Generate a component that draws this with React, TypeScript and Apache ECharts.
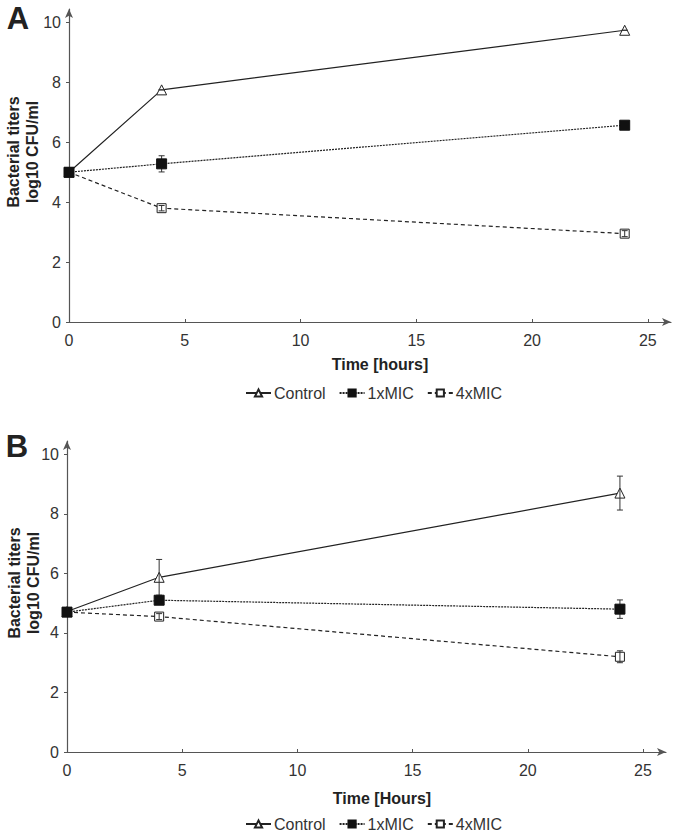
import React, { useEffect, useRef } from "react";
import * as echarts from "echarts";

const hours = [0, 4, 24];
const seriesNames = ["Control", "1xMIC", "4xMIC"];
const xTicks = [0, 5, 10, 15, 20, 25];
const yTicks = [0, 2, 4, 6, 8, 10];

// Panel A
const aControl = [5.0, 7.75, 9.74];
const aControlErr = [0, 0, 0];
const a1x = [5.0, 5.28, 6.57];
const a1xErr = [0.05, 0.27, 0.05];
const a4x = [5.0, 3.8, 2.95];
const a4xErr = [0.05, 0.09, 0.1];

// Panel B
const bControl = [4.72, 5.87, 8.7];
const bControlErr = [0.12, 0.6, 0.57];
const b1x = [4.7, 5.1, 4.8];
const b1xErr = [0.1, 0.12, 0.31];
const b4x = [4.7, 4.55, 3.2];
const b4xErr = [0.1, 0.1, 0.2];

const NARROW = "'Liberation Sans Narrow', 'Arial Narrow', 'Liberation Sans', Arial, sans-serif";
const SANS = "'Liberation Sans', Arial, sans-serif";
const INK = "#222";
const AXIS = "#555";

function pair(v: number[]) {
  return hours.map((h, i) => [h, v[i]]);
}
function errData(v: number[], e: number[]) {
  return hours.map((h, i) => [h, v[i] - e[i], v[i] + e[i]]);
}

const styles: any[] = [
  {
    symbol: "triangle",
    symbolSize: 10,
    z: 3,
    itemStyle: { color: "#fff", borderColor: INK, borderWidth: 1 },
    lineStyle: { color: INK, width: 1.2, type: "solid" },
  },
  {
    symbol: "rect",
    symbolSize: 10,
    z: 6,
    itemStyle: { color: "#111", borderColor: "#111", borderWidth: 1 },
    lineStyle: { color: INK, width: 1.2, type: [2, 1] },
  },
  {
    symbol: "rect",
    symbolSize: 9,
    z: 2,
    itemStyle: { color: "#fff", borderColor: INK, borderWidth: 1 },
    lineStyle: { color: INK, width: 1.2, type: [4, 3] },
  },
];

function renderErr(params: any, api: any) {
  const x = api.value(0);
  const lo = api.coord([x, api.value(1)]);
  const hi = api.coord([x, api.value(2)]);
  const w = 3;
  const st = { stroke: "#333", lineWidth: 1 };
  return {
    type: "group",
    children: [
      { type: "line", shape: { x1: lo[0], y1: lo[1], x2: hi[0], y2: hi[1] }, style: st },
      { type: "line", shape: { x1: lo[0] - w, y1: lo[1], x2: lo[0] + w, y2: lo[1] }, style: st },
      { type: "line", shape: { x1: hi[0] - w, y1: hi[1], x2: hi[0] + w, y2: hi[1] }, style: st },
    ],
  };
}

function xAxisCfg(gridIndex: number) {
  return {
    type: "value",
    gridIndex,
    min: 0,
    max: 26,
    splitLine: { show: false },
    axisLine: {
      show: true,
      lineStyle: { color: AXIS, width: 1.2 },
      symbol: ["none", "arrow"],
      symbolSize: [6, 9],
    },
    axisTick: { show: true, inside: true, length: 3, customValues: xTicks, lineStyle: { color: AXIS } },
    axisLabel: { customValues: xTicks, margin: 10, fontSize: 16, color: "#333", fontFamily: NARROW },
  };
}
function yAxisCfg(gridIndex: number) {
  return {
    type: "value",
    gridIndex,
    min: 0,
    max: 10.45,
    splitLine: { show: false },
    axisLine: {
      show: true,
      lineStyle: { color: AXIS, width: 1.2 },
      symbol: ["none", "arrow"],
      symbolSize: [6, 9],
    },
    axisTick: { show: true, inside: false, length: 3, customValues: yTicks, lineStyle: { color: AXIS } },
    axisLabel: { customValues: yTicks, margin: 8, fontSize: 16, color: "#333", fontFamily: NARROW },
  };
}

function panelSeries(idx: number, vals: number[][], errs: number[][]) {
  const out: any[] = [];
  vals.forEach((v, k) => {
    out.push({
      type: "line",
      name: seriesNames[k],
      xAxisIndex: idx,
      yAxisIndex: idx,
      data: pair(v),
      showSymbol: true,
      ...styles[k],
    });
  });
  errs.forEach((e, k) => {
    out.push({
      type: "custom",
      name: seriesNames[k] + " err" + idx,
      xAxisIndex: idx,
      yAxisIndex: idx,
      data: errData(vals[k], e),
      encode: { x: 0, y: [1, 2] },
      renderItem: renderErr,
      z: k === 1 ? 5 : 4,
      silent: true,
    });
  });
  return out;
}

function legendCfg(top: number) {
  return {
    data: seriesNames,
    left: 245,
    top,
    padding: 0,
    itemWidth: 25,
    itemHeight: 9,
    itemGap: 13,
    textStyle: { fontSize: 16, lineHeight: 16, color: "#333", fontFamily: NARROW, padding: [0, 0, 0, -2] },
    selectedMode: false,
  };
}

function vText(text: string, x: number, y: number) {
  return {
    type: "text",
    x,
    y,
    rotation: Math.PI / 2,
    style: {
      text,
      fontSize: 16,
      fontWeight: "bold",
      fontFamily: SANS,
      fill: INK,
      textAlign: "center",
      textVerticalAlign: "middle",
    },
  };
}
function hText(text: string, x: number, y: number, size: number) {
  return {
    type: "text",
    x,
    y,
    style: {
      text,
      fontSize: size,
      fontWeight: "bold",
      fontFamily: SANS,
      fill: INK,
      textAlign: "center",
      textVerticalAlign: "middle",
    },
  };
}

export default function App() {
  const ref = useRef<HTMLDivElement>(null);
  useEffect(() => {
    document.body.style.margin = "0";
    const chart = echarts.init(ref.current!, null, { renderer: "svg" });
    chart.setOption({
      animation: false,
      backgroundColor: "#fff",
      grid: [
        { left: 69, right: 11, top: 9, bottom: 513 },
        { left: 67, right: 16, top: 441, bottom: 83 },
      ],
      xAxis: [xAxisCfg(0), xAxisCfg(1)],
      yAxis: [yAxisCfg(0), yAxisCfg(1)],
      legend: [legendCfg(385), legendCfg(816)],
      series: [
        ...panelSeries(0, [aControl, a1x, a4x], [aControlErr, a1xErr, a4xErr]),
        ...panelSeries(1, [bControl, b1x, b4x], [bControlErr, b1xErr, b4xErr]),
      ],
      graphic: [
        hText("A", 18, 18, 31),
        hText("B", 17, 446, 31),
        vText("Bacterial titers", 13, 152),
        vText("log10 CFU/ml", 32, 152),
        vText("Bacterial titers", 14, 583),
        vText("log10 CFU/ml", 33, 583),
        hText("Time [hours]", 380, 364, 16),
        hText("Time [Hours]", 382, 798, 16),
      ],
    });
    return () => chart.dispose();
  }, []);
  return <div ref={ref} style={{ width: 682, height: 835 }} />;
}
